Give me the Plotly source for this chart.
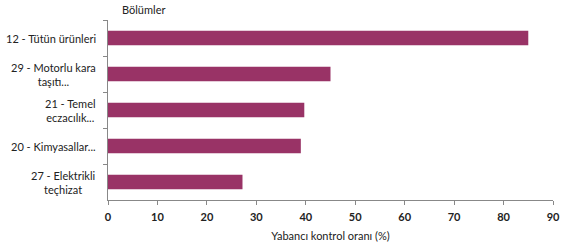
import plotly.graph_objects as go

categories = ["12 - Tütün ürünleri", "29 - Motorlu kara<br>taşıtı...", "21 - Temel<br>eczacılık...",
              "20 - Kimyasallar...", "27 - Elektrikli<br>teçhizat"]
values = [85.0, 45.0, 39.7, 39.0, 27.2]
x_ticks = [0, 10, 20, 30, 40, 50, 60, 70, 80, 90]

FONT = "Lato"
fig = go.Figure()
fig.add_trace(go.Bar(x=values, y=categories, orientation="h",
                     marker=dict(color="#993366", line=dict(width=0))))

for c in categories:
    fig.add_annotation(x=0, xref="paper", xanchor="right", xshift=-10, y=c, yref="y",
                       text=c.replace("<br>", "<br> <br>") if False else c, showarrow=False, align="center",
                       font=dict(family=FONT, size=11, color="#222"))

fig.add_annotation(x=(143 - 108) / 445, xref="paper", xanchor="center", y=1 + 10 / 180, yref="paper",
                   yanchor="middle", text="Bölümler", showarrow=False,
                   font=dict(family=FONT, size=11, color="#222"))

fig.update_layout(
    width=583, height=252,
    margin=dict(l=108, r=30, t=20, b=52),
    paper_bgcolor="white", plot_bgcolor="white",
    bargap=0.6, showlegend=False,
    font=dict(family=FONT, size=11, color="#222"),
)
fig.update_xaxes(range=[0, 90], tickvals=x_ticks, showgrid=False, zeroline=False,
                 showline=True, linecolor="#888", linewidth=1, ticks="outside", ticklen=4,
                 tickcolor="#888", ticklabelstandoff=3,
                 tickfont=dict(family=FONT, size=11, color="#222", weight="bold"),
                 title=dict(text="Yabancı kontrol oranı (%)", font=dict(family=FONT, size=11, color="#222"),
                            standoff=10))
fig.update_yaxes(autorange="reversed", showgrid=False, showline=True, linecolor="#888", linewidth=1,
                 ticks="outside", ticklen=4, tickcolor="#888", tickson="boundaries",
                 showticklabels=False)
fig.write_html("out.html")
